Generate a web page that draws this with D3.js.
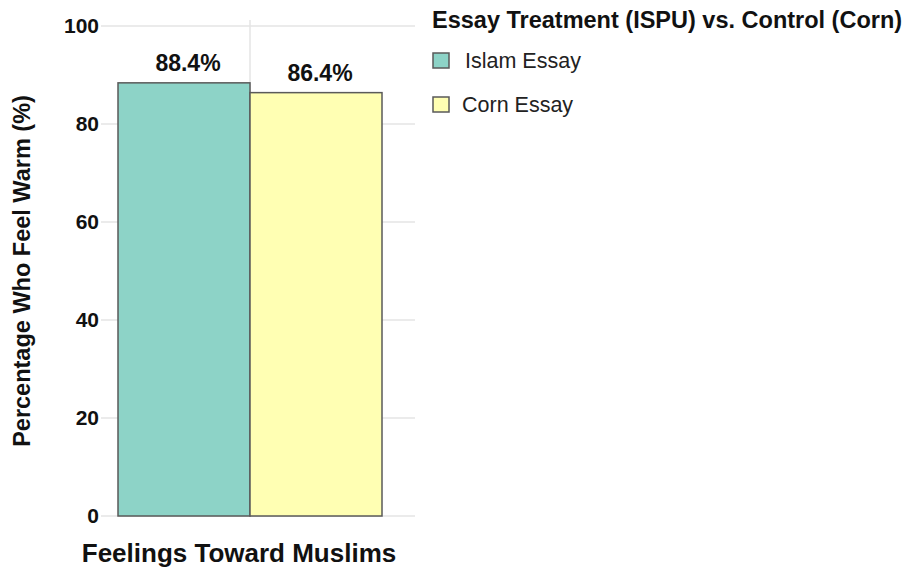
<!DOCTYPE html>
<html>
<head>
<meta charset="utf-8">
<script src="https://cdn.jsdelivr.net/npm/d3@7"></script>
<style>
  body { margin: 0; background: #fff; }
  svg { font-family: "Liberation Sans", Arial, sans-serif; }
</style>
</head>
<body>
<div id="chart"></div>
<script>
const groups = ["Islam Essay", "Corn Essay"];
const values = [88.4, 86.4];
const colors = ["#8dd3c7", "#ffffb3"];
const yTicks = [0, 20, 40, 60, 80, 100];
const category = "Feelings Toward Muslims";

const width = 909, height = 570;
const panel = { left: 101, right: 415, top: 26, bottom: 516 };

const svg = d3.select("#chart").append("svg")
    .attr("width", width)
    .attr("height", height);

const y = d3.scaleLinear()
    .domain([0, 100])
    .range([panel.bottom, panel.top]);

// one category, two dodged bars
const x = d3.scaleBand()
    .domain([category])
    .range([118, 382])
    .padding(0);

const xSub = d3.scaleBand()
    .domain(groups)
    .range([0, x.bandwidth()]);

// grid
svg.append("g")
    .selectAll("line")
    .data(yTicks)
    .join("line")
    .attr("x1", panel.left)
    .attr("x2", panel.right)
    .attr("y1", d => y(d))
    .attr("y2", d => y(d))
    .attr("stroke", "#e4e4e4")
    .attr("stroke-width", 1.5);

svg.append("line")
    .attr("x1", x(category) + x.bandwidth() / 2)
    .attr("x2", x(category) + x.bandwidth() / 2)
    .attr("y1", panel.top - 6)
    .attr("y2", y(0))
    .attr("stroke", "#e4e4e4")
    .attr("stroke-width", 1.5);

// bars
svg.append("g")
    .selectAll("rect")
    .data(groups)
    .join("rect")
    .attr("x", g => x(category) + xSub(g))
    .attr("y", (g, i) => y(values[i]))
    .attr("width", xSub.bandwidth())
    .attr("height", (g, i) => y(0) - y(values[i]))
    .attr("fill", (g, i) => colors[i])
    .attr("stroke", "#5a5a5a")
    .attr("stroke-width", 1.5);

// value labels
svg.append("g")
    .selectAll("text")
    .data(groups)
    .join("text")
    .attr("x", g => x(category) + xSub(g) + xSub.bandwidth() / 2 + 4)
    .attr("y", (g, i) => y(values[i]) - 12)
    .attr("text-anchor", "middle")
    .attr("font-size", 23)
    .attr("font-weight", "bold")
    .attr("fill", "#111")
    .text((g, i) => values[i].toFixed(1) + "%");

// y axis labels
const yAxis = svg.append("g")
    .attr("transform", `translate(${panel.left},0)`)
    .call(d3.axisLeft(y).tickValues(yTicks).tickSize(0).tickPadding(2));
yAxis.select(".domain").remove();
yAxis.selectAll("text")
    .attr("font-family", "Liberation Sans, Arial, sans-serif")
    .attr("font-size", 21)
    .attr("font-weight", "bold")
    .attr("fill", "#111");

// axis titles
svg.append("text")
    .attr("transform", `translate(30,${(y(0) + y(100)) / 2}) rotate(-90)`)
    .attr("text-anchor", "middle")
    .attr("font-size", 23.5)
    .attr("font-weight", "bold")
    .attr("fill", "#111")
    .text("Percentage Who Feel Warm (%)");

svg.append("text")
    .attr("x", 239)
    .attr("y", 562)
    .attr("text-anchor", "middle")
    .attr("font-size", 26)
    .attr("font-weight", "bold")
    .attr("fill", "#111")
    .text(category);

// legend
const legend = svg.append("g").attr("transform", "translate(432,0)");
legend.append("text")
    .attr("x", 0)
    .attr("y", 28)
    .attr("font-size", 23.5)
    .attr("font-weight", "bold")
    .attr("fill", "#111")
    .text("Essay Treatment (ISPU) vs. Control (Corn)");

const item = legend.selectAll("g.item")
    .data(groups)
    .join("g")
    .attr("class", "item")
    .attr("transform", (g, i) => `translate(0,${53 + i * 44})`);
item.append("rect")
    .attr("x", 1)
    .attr("y", 0)
    .attr("width", 16)
    .attr("height", 15)
    .attr("fill", (g, i) => colors[i])
    .attr("stroke", "#5a5a5a")
    .attr("stroke-width", 1.5);
item.append("text")
    .attr("x", (g, i) => i === 0 ? 33 : 30)
    .attr("y", 15)
    .attr("font-size", 21.5)
    .attr("fill", "#222")
    .text(g => g);
</script>
</body>
</html>
